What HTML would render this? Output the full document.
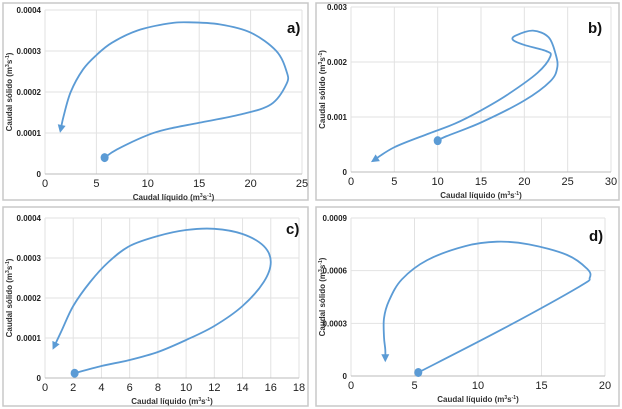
<!DOCTYPE html>
<html><head><meta charset="utf-8"><style>
body{margin:0;background:#fff;}
svg{display:block;font-family:"Liberation Sans",sans-serif;}
</style></head><body>
<svg id="s" width="622" height="409" viewBox="0 0 622 409"></svg>
<script>
// Panel a
const aX=[5.8,7,10,12,15,19,22,23.5,23.5,22.5,20,17,14,12,9,6.5,5,3.7,2.5,1.8,1.5];
const aY=[0.00004,0.00006,0.000095,0.00011,0.000125,0.000145,0.00017,0.00022,0.00025,0.0003,0.000345,0.000365,0.00037,0.000367,0.00035,0.00032,0.00029,0.000255,0.0002,0.00014,0.000105];
const aXTicks=[0,5,10,15,20,25];
const aYTicks=["0","0.0001","0.0002","0.0003","0.0004"];
// Panel b
const bX=[10,11,15,20,23,23.8,23.6,22.8,21,19,18.7,20,22.5,23,21.5,18,15,12,9,5,2.5];
const bY=[0.00057,0.00065,0.0009,0.0013,0.00165,0.0019,0.00215,0.00245,0.00257,0.00248,0.0024,0.00231,0.0022,0.0021,0.0018,0.0014,0.00112,0.00088,0.0007,0.00045,0.0002];
const bXTicks=[0,5,10,15,20,25,30];
const bYTicks=["0","0.001","0.002","0.003"];
// Panel c
const cX=[2.1,4,6,8,10,12,14,15.5,16,15.5,14,12,10,8,6,4.5,3.2,2,1.2,0.6];
const cY=[0.000012,0.00003,0.000045,0.000065,0.000095,0.00013,0.00018,0.00024,0.00029,0.00033,0.00036,0.000373,0.00037,0.000355,0.00033,0.00029,0.00024,0.00018,0.00012,0.000075];
const cXTicks=[0,2,4,6,8,10,12,14,16,18];
const cYTicks=["0","0.0001","0.0002","0.0003","0.0004"];
// Panel d
const dX=[5.3,12,18,18.8,18.6,17,14,11.5,9,6,4,3,2.6,2.6,2.7,2.7];
const dY=[0.00002,0.00027,0.00051,0.00056,0.00061,0.00069,0.00075,0.000765,0.00074,0.00066,0.00055,0.00043,0.00033,0.00022,0.00015,0.00009];
const dXTicks=[0,5,10,15,20];
const dYTicks=["0","0.0003","0.0006","0.0009"];

const NS="http://www.w3.org/2000/svg";
const svg=document.getElementById('s');
function mk(t,a,p){const e=document.createElementNS(NS,t);for(const k in a)e.setAttribute(k,a[k]);(p||svg).appendChild(e);return e;}
const C="#5b9bd5";
function panel(cfg,xs,ys,xt,yt){
 const g=mk('g',{});
 
 
 const b=mk('rect',{x:cfg.bx,y:cfg.by,width:cfg.bw,height:cfg.bh,fill:'#fff',stroke:'#c8c8c8','stroke-width':1.5},g);
 
 
 const xmax=xt[xt.length-1], ymax=parseFloat(yt[yt.length-1]);
 const sx=v=>cfg.x0+(cfg.x1-cfg.x0)*v/xmax;
 const sy=v=>cfg.y0-(cfg.y0-cfg.y1)*v/ymax;
 xt.forEach(v=>{
  const l=mk('line',{x1:sx(v),x2:sx(v),y1:cfg.y1,y2:cfg.y0,stroke:'#e2e2e2'},g);
  
  
  const t=mk('text',{x:sx(v),y:cfg.y0+13,'font-size':11,'text-anchor':'middle',fill:'#222'},g);t.textContent=v;
  
  
 });
 yt.forEach(s=>{const v=parseFloat(s);
  const l=mk('line',{x1:cfg.x0,x2:cfg.x1,y1:sy(v),y2:sy(v),stroke:'#e2e2e2'},g);
  
  
  const t=mk('text',{x:cfg.x0-4,y:sy(v)+3,'font-size':8,'font-weight':'bold','text-anchor':'end',fill:'#222'},g);t.textContent=s;
  
  
 });
 const ax=mk('line',{x1:cfg.x0,x2:cfg.x1,y1:cfg.y0,y2:cfg.y0,stroke:'#bbb'},g);
 
 
 const xtl=mk('text',{x:(cfg.x0+cfg.x1)/2,y:cfg.y0+26,'font-size':8,'font-weight':'bold','text-anchor':'middle',fill:'#333'},g);
 xtl.innerHTML='Caudal líquido (m<tspan dy="-3" font-size="5">3</tspan><tspan dy="3">s</tspan><tspan dy="-3" font-size="5">-1</tspan><tspan dy="3">)</tspan>';
 
 
 const yc=(cfg.y0+cfg.y1)/2, yx=cfg.bx+9;
 const ytl=mk('text',{x:yx,y:yc,'font-size':8,'font-weight':'bold','text-anchor':'middle',fill:'#333',transform:`rotate(-90 ${yx} ${yc})`},g);
 ytl.innerHTML='Caudal sólido (m<tspan dy="-3" font-size="5">3</tspan><tspan dy="3">s</tspan><tspan dy="-3" font-size="5">-1</tspan><tspan dy="3">)</tspan>';
 
 
 const lb=mk('text',{x:cfg.lx,y:cfg.ly,'font-size':15,'font-weight':'bold',fill:'#111'},g);lb.textContent=cfg.label+')';
 
 
 const P=xs.map((x,i)=>[sx(x),sy(ys[i])]);
 let d='M'+P[0][0]+','+P[0][1];
 for(let i=0;i<P.length-1;i++){
  const p0=P[Math.max(i-1,0)],p1=P[i],p2=P[i+1],p3=P[Math.min(i+2,P.length-1)];
  d+=` C${p1[0]+(p2[0]-p0[0])/6},${p1[1]+(p2[1]-p0[1])/6} ${p2[0]-(p3[0]-p1[0])/6},${p2[1]-(p3[1]-p1[1])/6} ${p2[0]},${p2[1]}`;
 }
 const path=mk('path',{d:d,fill:'none',stroke:C,'stroke-width':1.8},g);
 
 
 const dot=mk('ellipse',{cx:P[0][0],cy:P[0][1],rx:4,ry:4.5,fill:C},g);
 
 
 const e=P[P.length-1],q=P[P.length-2];
 const ang=Math.atan2(e[1]-q[1],e[0]-q[0]);
 const L=8,W=4;
 const ca=Math.cos(ang),sa=Math.sin(ang);
 const tip=[e[0]+ca*2,e[1]+sa*2];
 const bb=[tip[0]-ca*L,tip[1]-sa*L];
 const ar=mk('polygon',{points:`${tip[0]},${tip[1]} ${bb[0]-sa*W},${bb[1]+ca*W} ${bb[0]+sa*W},${bb[1]-ca*W}`,fill:C},g);
 
 
}
panel({label:'a',bx:3,by:3,bw:305,bh:197,x0:45,x1:302,y0:174,y1:10,lx:287,ly:33},aX,aY,aXTicks,aYTicks);
panel({label:'b',bx:316,by:3,bw:303,bh:197,x0:351,x1:611,y0:172,y1:7,lx:588,ly:33},bX,bY,bXTicks,bYTicks);
panel({label:'c',bx:3,by:207,bw:305,bh:199,x0:45,x1:299,y0:378,y1:218,lx:286,ly:234},cX,cY,cXTicks,cYTicks);
panel({label:'d',bx:316,by:207,bw:303,bh:199,x0:351,x1:605,y0:376,y1:218,lx:589,ly:241},dX,dY,dXTicks,dYTicks);
</script>
</body></html>
